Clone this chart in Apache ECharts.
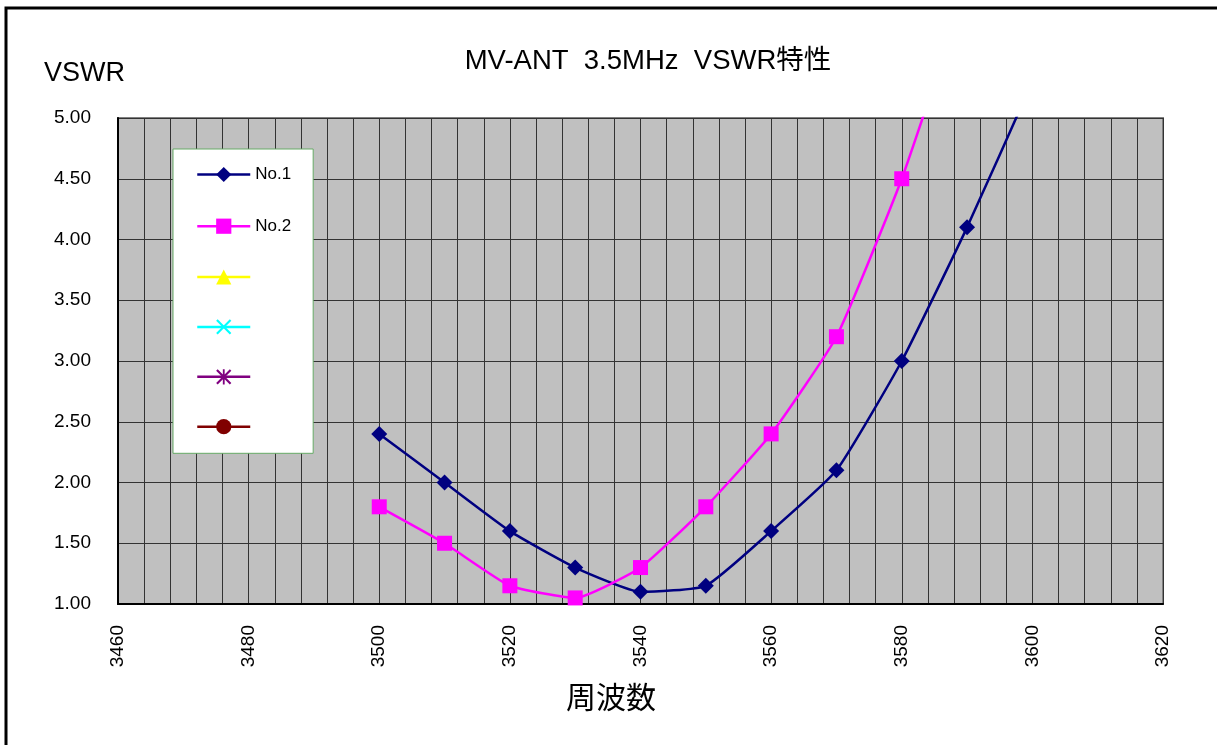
<!DOCTYPE html>
<html>
<head>
<meta charset="utf-8">
<script src="https://cdn.jsdelivr.net/npm/echarts@6/dist/echarts.min.js"></script>
<style>
  html, body { margin: 0; padding: 0; background: #fff; }
  #chart { width: 1217px; height: 745px; }
</style>
</head>
<body>
<div id="chart"></div>
<script>
// Frequency points (MHz)
const freqNo1 = [3500, 3510, 3520, 3530, 3540, 3550, 3560, 3570, 3580, 3590, 3600];
const freqNo2 = [3500, 3510, 3520, 3530, 3540, 3550, 3560, 3570, 3580, 3590];
// VSWR readings
const vswrNo1 = [2.40, 2.00, 1.60, 1.30, 1.10, 1.15, 1.60, 2.10, 3.00, 4.10, 5.30];
const vswrNo2 = [1.80, 1.50, 1.15, 1.05, 1.30, 1.80, 2.40, 3.20, 4.50, 6.10];

const seriesNames = ['No.1', 'No.2', '系列3', '系列4', '系列5', '系列6'];
const shownNames = ['No.1', 'No.2'];

const titleText = 'MV-ANT  3.5MHz  VSWR特性';
const yName = 'VSWR';
const xName = '周波数';

const FONT = "'Liberation Sans', 'Noto Sans CJK JP', sans-serif";

// cross and asterisk markers as filled outlines
const crossPath = 'path://M0,1L1,0L10,9L9,10ZM1,10L0,9L9,0L10,1Z';
const starPath = 'path://M0,1L1,0L10,9L9,10ZM1,10L0,9L9,0L10,1ZM4.4,0L5.6,0L5.6,10L4.4,10Z';

function pairs(xs, ys) { return xs.map((x, i) => [x, ys[i]]); }

const chart = echarts.init(document.getElementById('chart'), null, { renderer: 'canvas' });

const option = {
  animation: false,
  backgroundColor: '#ffffff',
  textStyle: { fontFamily: FONT },
  grid: {
    left: 118, top: 118, right: 54, bottom: 141,
    show: true,
    backgroundColor: '#c0c0c0',
    borderColor: '#808080',
    borderWidth: 2
  },
  legend: {
    orient: 'vertical',
    left: 173, top: 149,
    padding: [17, 22, 19, 23],
    backgroundColor: '#ffffff',
    borderColor: '#66aa66',
    borderWidth: 1,
    itemWidth: 53,
    itemHeight: 19,
    itemGap: 34.7,
    selectedMode: false,
    data: seriesNames,
    lineStyle: { width: 2.5 },
    formatter: (name) => shownNames.includes(name) ? name : '',
    textStyle: { fontFamily: FONT, fontSize: 17, color: '#000', lineHeight: 14 }
  },
  xAxis: {
    type: 'value',
    min: 3460, max: 3620, interval: 20,
    axisLine: { show: true, onZero: false, lineStyle: { color: '#000', width: 2 } },
    axisTick: { show: false },
    minorTick: { show: false, splitNumber: 5 },
    splitLine: { show: true, lineStyle: { color: '#333', width: 1 } },
    minorSplitLine: { show: true, lineStyle: { color: '#333', width: 1 } },
    axisLabel: {
      rotate: 90, margin: 21, fontSize: 19, color: '#000', fontFamily: FONT,
      showMinLabel: true, showMaxLabel: true,
      formatter: (v) => String(v)
    }
  },
  yAxis: {
    type: 'value',
    min: 1, max: 5, interval: 0.5,
    axisLine: { show: true, onZero: false, lineStyle: { color: '#000', width: 2 } },
    axisTick: { show: false },
    splitLine: { show: true, lineStyle: { color: '#333', width: 1 } },
    axisLabel: {
      margin: 27, fontSize: 19, color: '#000', fontFamily: FONT,
      formatter: (v) => v.toFixed(2)
    }
  },
  graphic: [
    {
      type: 'rect', silent: true, z: 100,
      shape: { x: 6, y: 8, width: 1260, height: 800 },
      style: { fill: null, stroke: '#000', lineWidth: 3 }
    },
    {
      type: 'text', x: 648, y: 61, silent: true,
      style: { text: titleText, fontSize: 27.5, fontFamily: FONT, fill: '#000', align: 'center', verticalAlign: 'middle' }
    },
    {
      type: 'text', x: 44, y: 74, silent: true,
      style: { text: yName, fontSize: 27, fontFamily: FONT, fill: '#000', align: 'left', verticalAlign: 'middle' }
    },
    {
      type: 'text', x: 611, y: 700, silent: true,
      style: { text: xName, fontSize: 30, fontFamily: FONT, fill: '#000', align: 'center', verticalAlign: 'middle' }
    }
  ],
  series: [
    {
      name: seriesNames[0], type: 'line', data: pairs(freqNo1, vswrNo1),
      smooth: 0.15, clip: true,
      symbol: 'diamond', symbolSize: 16,
      lineStyle: { color: '#000080', width: 2.5 },
      itemStyle: { color: '#000080' }
    },
    {
      name: seriesNames[1], type: 'line', data: pairs(freqNo2, vswrNo2),
      smooth: 0.15, clip: true,
      symbol: 'rect', symbolSize: 15,
      lineStyle: { color: '#ff00ff', width: 2.5 },
      itemStyle: { color: '#ff00ff' }
    },
    {
      name: seriesNames[2], type: 'line', data: [],
      symbol: 'triangle',
      lineStyle: { color: '#ffff00', width: 2.5 }, itemStyle: { color: '#ffff00' }
    },
    {
      name: seriesNames[3], type: 'line', data: [],
      symbol: crossPath,
      lineStyle: { color: '#00ffff', width: 2.5 }, itemStyle: { color: '#00ffff' }
    },
    {
      name: seriesNames[4], type: 'line', data: [],
      symbol: starPath,
      lineStyle: { color: '#800080', width: 2.5 }, itemStyle: { color: '#800080' }
    },
    {
      name: seriesNames[5], type: 'line', data: [],
      symbol: 'circle',
      lineStyle: { color: '#800000', width: 2.5 }, itemStyle: { color: '#800000' }
    }
  ]
};

chart.setOption(option);
</script>
</body>
</html>
